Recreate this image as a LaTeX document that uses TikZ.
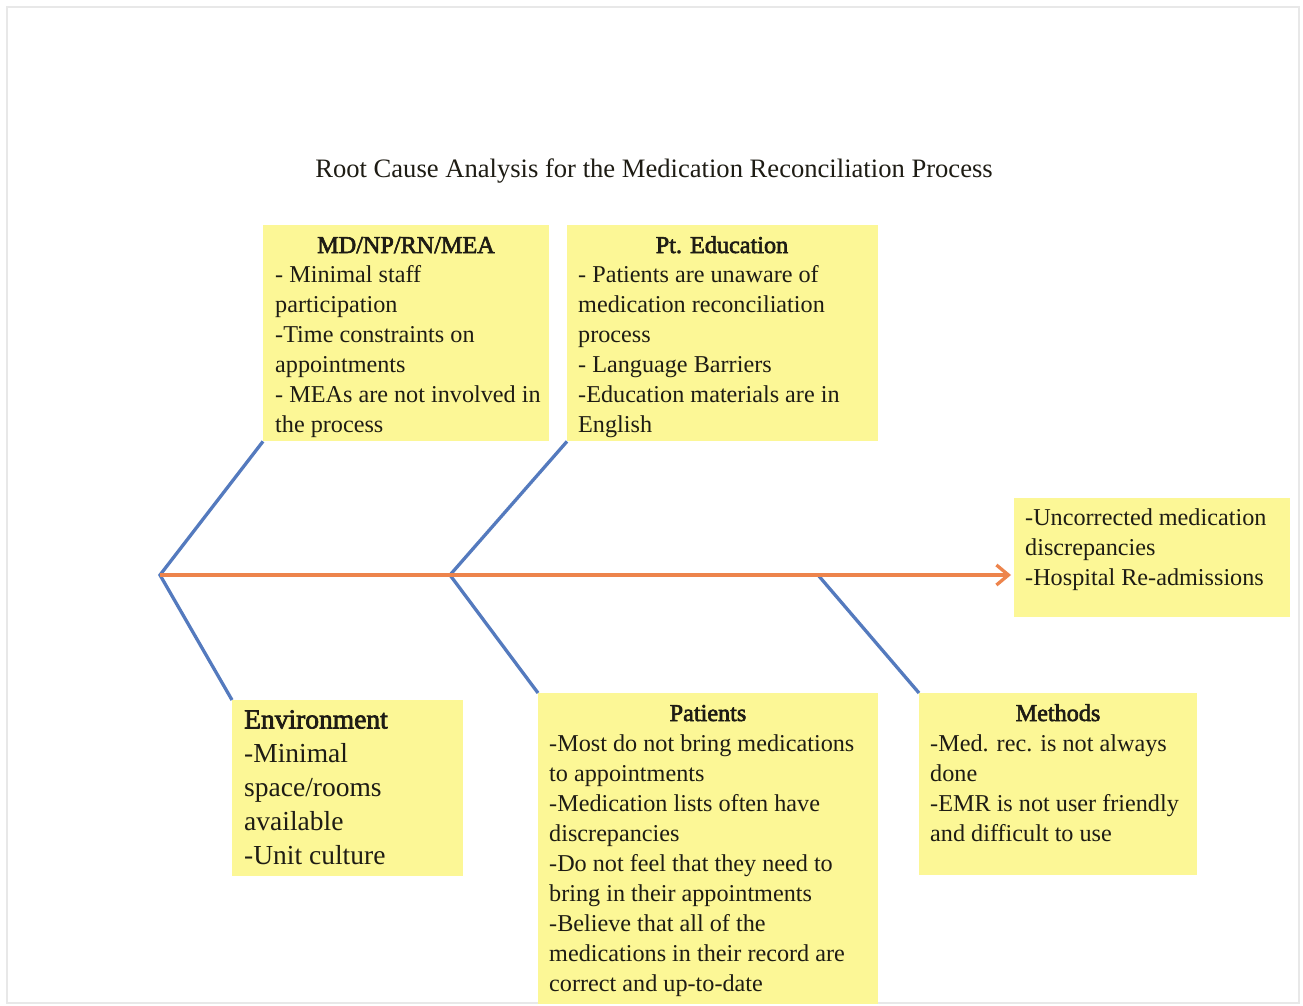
\documentclass[tikz,border=0pt]{standalone}
\usepackage{fontspec}
\setmainfont{Liberation Serif}
\newfontfamily\headfont[FakeBold=2.5]{Liberation Serif}
\usetikzlibrary{arrows.meta}
\definecolor{boxyellow}{RGB}{252,247,150}
\definecolor{boneblue}{RGB}{84,122,190}
\definecolor{spineorange}{RGB}{237,132,76}
\definecolor{inktext}{RGB}{30,28,20}
\tikzset{
  causebox/.style={fill=boxyellow, draw=none, inner sep=0pt, anchor=north west},
  bodytext/.style={font=\fontsize{24.2}{30}\selectfont, text=inktext, align=left, inner sep=0pt, anchor=north west},
  envtext/.style={font=\fontsize{27.5}{34}\selectfont, text=inktext, align=left, inner sep=0pt, anchor=north west},
  headtext/.style={font=\fontsize{24.2}{30}\selectfont\headfont, text=inktext, inner sep=0pt, anchor=base},
  bone/.style={draw=boneblue, line width=3.3pt},
  spine/.style={draw=spineorange, line width=3.3pt, -{Straight Barb[length=12pt,width=20pt,line width=3.3pt]}},
}
\begin{document}
\begin{tikzpicture}[x=1pt,y=-1pt]
\useasboundingbox (0,0) rectangle (1303,1006);
\fill[white] (0,0) rectangle (1303,1006);
\draw[black!9, line width=1.2pt] (7,7) rectangle (1299,1003);

% title
\node[font=\fontsize{26.6}{30}\selectfont, text=inktext, inner sep=0pt, anchor=base] (title) at (654,177) {Root Cause Analysis for the Medication Reconciliation Process};

% boxes
\node[causebox, minimum width=286pt, minimum height=216pt] (md) at (263,225) {};
\node[causebox, minimum width=311pt, minimum height=216pt] (edu) at (567,225) {};
\node[causebox, minimum width=276pt, minimum height=119pt] (res) at (1014,498) {};
\node[causebox, minimum width=231pt, minimum height=176pt] (env) at (232,700) {};
\node[causebox, minimum width=340pt, minimum height=311pt] (pat) at (538,693) {};
\node[causebox, minimum width=278pt, minimum height=182pt] (mth) at (919,693) {};

% headings
\node[headtext] (mdH) at (406,253) {MD/NP/RN/MEA};
\node[headtext] (eduH) at (722,253) {Pt. Education};
\node[headtext] (patH) at (708,721) {Patients};
\node[headtext] (mthH) at (1058,721) {Methods};

% body texts
\node[bodytext] (mdT) at (275,265) {- Minimal staff\\participation\\-Time constraints on\\appointments\\- MEAs are not involved in\\the process};
\node[bodytext] (eduT) at (578,265) {- Patients are unaware of\\medication reconciliation\\process\\- Language Barriers\\-Education materials are in\\English};
\node[bodytext] (resT) at (1025,509) {-Uncorrected medication\\discrepancies\\-Hospital Re-admissions};
\node[envtext] (envT) at (244,710) {{\headfont Environment}\\-Minimal\\space/rooms\\available\\-Unit culture};
\node[bodytext] (patT) at (549,734) {-Most do not bring medications\\to appointments\\-Medication lists often have\\discrepancies\\-Do not feel that they need to\\bring in their appointments\\-Believe that all of the\\medications in their record are\\correct and up-to-date};
\node[bodytext] (mthT) at (930,734) {-Med. rec. is not always\\done\\-EMR is not user friendly\\and difficult to use};

% skeleton
\coordinate (j1) at (160,575);
\coordinate (j2) at (450,575);
\coordinate (j3) at (818,575);
\draw[bone] (md.south west) -- (j1) -- (env.north west);
\draw[bone] (edu.south west) -- (j2) -- (pat.north west);
\draw[bone] (j3) -- (mth.north west);
\draw[spine] (j1) -- ([xshift=-3pt]j1 -| res.west);
\end{tikzpicture}
\end{document}
